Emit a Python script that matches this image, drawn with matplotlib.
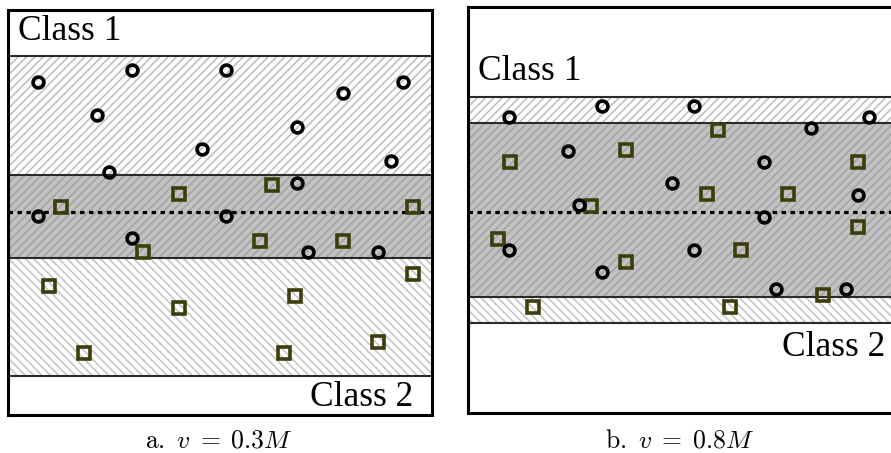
import matplotlib
matplotlib.use("Agg")
import matplotlib.pyplot as plt

plt.rcParams['mathtext.fontset'] = 'cm'
plt.rcParams['hatch.linewidth'] = 1.2

# ---- Panel a (v = 0.3M): local coordinates, y measured from top ----
a_band_edges = [0, 46, 165, 248, 366, 405]
a_dotted_y = 202
a_circ_x = [30, 124, 218, 395, 335, 89, 289, 194, 383, 101, 289, 30, 218, 124, 300, 370]
a_circ_y = [72, 60, 60, 72, 83, 105, 117, 139, 151, 162, 173, 206, 206, 228, 242, 242]
a_sq_x = [53, 171, 264, 405, 135, 252, 335, 405, 41, 287, 171, 76, 276, 370]
a_sq_y = [197, 184, 175, 197, 242, 231, 231, 264, 276, 286, 298, 343, 343, 332]

# ---- Panel b (v = 0.8M) ----
b_band_edges = [0, 90, 116, 290, 316, 406]
b_dotted_y = 205
b_circ_x = [41, 134, 226, 401, 343, 100, 296, 204, 390, 111, 296, 41, 226, 134, 308, 378]
b_circ_y = [110, 99, 99, 110, 121, 144, 155, 176, 188, 198, 210, 243, 243, 265, 282, 282]
b_sq_x = [42, 158, 250, 390, 239, 320, 123, 390, 30, 158, 273, 65, 262, 355]
b_sq_y = [155, 143, 123, 155, 187, 187, 199, 220, 232, 255, 243, 300, 300, 288]

captions = [r"$\mathrm{a.}\ v\; =\; 0.3M$", r"$\mathrm{b.}\ v\; =\; 0.8M$"]
class_labels = ["Class 1", "Class 2"]

fig = plt.figure(figsize=(8.91, 4.53), dpi=100)
W, H = 891, 453

def panel(rect_px, width, edges, dotted_y, cx, cy, sx, sy, c1_pos, c2_pos, caption, cap_x):
    x0, y0, w, h = rect_px
    ax = fig.add_axes([x0 / W, 1 - (y0 + h) / H, w / W, h / H])
    ax.set_xlim(0, width)
    ax.set_ylim(edges[-1], edges[0])
    # bands
    ax.axhspan(edges[0], edges[1], facecolor='white', lw=0, zorder=0)
    ax.axhspan(edges[1], edges[2], facecolor='white', lw=0, zorder=0)
    ax.axhspan(edges[1], edges[2], facecolor='none', edgecolor='#c0c0c0', hatch='////', lw=0, zorder=1)
    ax.axhspan(edges[2], edges[3], facecolor='#c2c2c2', lw=0, zorder=0)
    ax.axhspan(edges[2], edges[3], facecolor='none', edgecolor='#a4a4a4', hatch='////', lw=0, zorder=1)
    ax.axhspan(edges[3], edges[4], facecolor='white', lw=0, zorder=0)
    ax.axhspan(edges[3], edges[4], facecolor='none', edgecolor='#c6c6c6', hatch='\\\\\\\\', lw=0, zorder=1)
    ax.axhspan(edges[4], edges[5], facecolor='white', lw=0, zorder=0)
    for e in edges[1:-1]:
        ax.axhline(e, color='#2a2a2a', lw=1.5, zorder=2)
    ax.axhline(dotted_y, color='black', lw=2.3, linestyle=(0, (1.4, 1.4)), zorder=3)
    ax.plot(cx, cy, linestyle='none', marker='o', ms=7.8, mew=2.6,
            mec='black', mfc='none', zorder=5)
    ax.plot(sx, sy, linestyle='none', marker='s', ms=8.0, mew=2.6,
            mec='#3d3d0c', mfc='none', zorder=4)
    ax.text(c1_pos[0], c1_pos[1], class_labels[0], family='Liberation Serif',
            fontsize=25.5, ha='left', va='center', zorder=6)
    ax.text(c2_pos[0], c2_pos[1], class_labels[1], family='Liberation Serif',
            fontsize=25.5, ha='right', va='center', zorder=6)
    ax.set_xticks([]); ax.set_yticks([])
    for s in ax.spines.values():
        s.set_linewidth(2.2)
        s.set_color('black')
        s.set_zorder(10)
    fig.text(cap_x / W, 1 - 440 / H, caption, ha='center', va='center', fontsize=18.5)
    return ax

panel((8, 10, 424, 405), 424, a_band_edges, a_dotted_y, a_circ_x, a_circ_y,
      a_sq_x, a_sq_y, (10, 22), (405, 388), captions[0], 219)
panel((468, 7, 432, 406), 432, b_band_edges, b_dotted_y, b_circ_x, b_circ_y,
      b_sq_x, b_sq_y, (10, 64), (417, 340), captions[1], 680)

fig.savefig("out.png", dpi=100)
